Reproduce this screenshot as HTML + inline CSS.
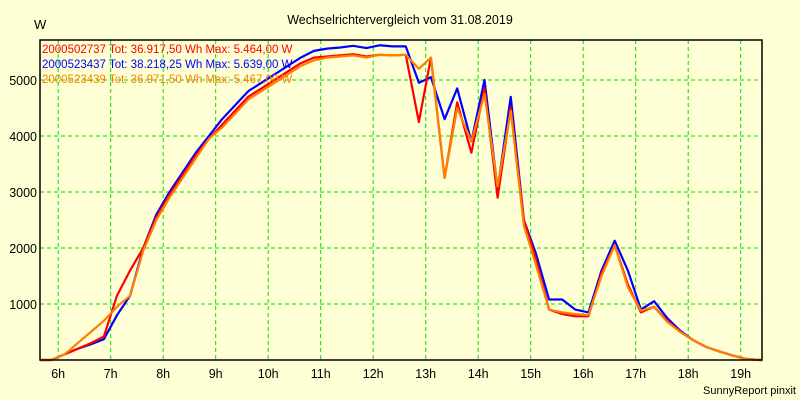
<!DOCTYPE html>
<html><head><meta charset="utf-8"><style>
body{margin:0;background:#ffffd5;}
svg{display:block;font-family:"Liberation Sans",sans-serif;}
</style></head><body>
<svg id="chart" width="800" height="400" viewBox="0 0 800 400">
<rect x="0" y="0" width="800" height="400" fill="#ffffd5"/>
<text x="400" y="24" text-anchor="middle" font-size="12.5" fill="#000">Wechselrichtervergleich vom 31.08.2019</text>
<text x="34" y="29" font-size="13" fill="#000">W</text>
<text x="796" y="394" text-anchor="end" font-size="11" fill="#000">SunnyReport pinxit</text>
<g id="grid"></g><g id="series"></g><g id="axes"></g>
<g font-size="11.5">
<text x="42" y="53" fill="#ff0000">2000502737 Tot: 36.917,50 Wh Max: 5.464,00 W</text>
<text x="42" y="68" fill="#0000ff">2000523437 Tot: 38.218,25 Wh Max: 5.639,00 W</text>
<text x="42" y="83" fill="#ff8000">2000523439 Tot: 36.971,50 Wh Max: 5.467,00 W</text>
</g>
</svg>
<script>
const hourTicks=[6,7,8,9,10,11,12,13,14,15,16,17,18,19];
const valueTicks=[1000,2000,3000,4000,5000];
const times=[5.62,5.87,6.12,6.37,6.62,6.87,7.12,7.37,7.62,7.87,8.12,8.37,8.62,8.87,9.12,9.37,9.62,9.87,10.12,10.37,10.62,10.87,11.12,11.37,11.62,11.87,12.12,12.37,12.62,12.87,13.1,13.36,13.6,13.87,14.12,14.37,14.62,14.87,15.1,15.35,15.6,15.85,16.1,16.35,16.6,16.85,17.1,17.35,17.6,17.85,18.1,18.35,18.6,18.85,19.1,19.35,19.45];
const blueVals=[0,0,100,200,280,370,800,1150,2000,2600,3000,3350,3700,4000,4300,4550,4800,4950,5100,5250,5400,5520,5560,5580,5610,5570,5620,5600,5600,4950,5050,4300,4850,3900,5000,3050,4700,2500,1900,1080,1080,900,850,1600,2130,1600,900,1050,750,520,350,230,150,80,20,0,0];
const redVals=[0,0,100,200,300,420,1150,1600,2000,2550,2950,3300,3650,3950,4200,4450,4700,4850,5000,5150,5300,5400,5420,5440,5460,5420,5450,5440,5450,4250,5400,3250,4600,3700,4850,2900,4500,2500,1800,900,820,780,780,1550,2050,1350,850,950,700,500,350,230,150,80,20,0,0];
const orangeVals=[0,0,100,300,500,700,950,1150,1950,2500,2900,3250,3600,3950,4150,4400,4650,4800,4950,5100,5250,5350,5400,5420,5440,5400,5450,5440,5450,5200,5400,3250,4500,3900,4750,3100,4450,2400,1700,900,850,820,800,1500,2050,1300,880,950,680,500,350,230,150,80,20,0,0];
const L=40,R=762,T=40,B=360;
const xOf=h=>58.2+(h-6)*52.5;
const yOf=v=>B-v*0.056;
const NS="http://www.w3.org/2000/svg";
function mk(tag,attrs,parent){const e=document.createElementNS(NS,tag);for(const k in attrs)e.setAttribute(k,attrs[k]);parent.appendChild(e);return e;}
const grid=document.getElementById('grid'),axes=document.getElementById('axes'),ser=document.getElementById('series');
hourTicks.forEach(h=>{
  const ln=mk('line',{x1:xOf(h),x2:xOf(h),y1:T,y2:B,stroke:'#00e000','stroke-dasharray':'4,3'},grid);
  
  
  const t=mk('text',{x:xOf(h),y:B+18,'text-anchor':'middle','font-size':12.5,fill:'#000'},axes);
  t.textContent=h+'h';
  
  
});
valueTicks.forEach(v=>{
  const ln=mk('line',{x1:L,x2:R,y1:yOf(v),y2:yOf(v),stroke:'#00e000','stroke-dasharray':'4,3'},grid);
  
  
  const t=mk('text',{x:37,y:yOf(v)+5,'text-anchor':'end','font-size':12.5,fill:'#000'},axes);
  t.textContent=v;
  
  
});
const frame=mk('rect',{x:L,y:T,width:R-L,height:B-T,fill:'none',stroke:'#000','stroke-width':1.5},axes);


function line(vals,color,name){
  const pts=vals.map((v,i)=>Math.max(L,Math.min(R,xOf(times[i])))+','+yOf(v)).join(' ');
  const p=mk('polyline',{points:pts,fill:'none',stroke:color,'stroke-width':2.2,'stroke-linejoin':'round'},ser);
  
  
}
line(blueVals,'#0000ff','series-2000523437');
line(redVals,'#ff0000','series-2000502737');
line(orangeVals,'#ff8000','series-2000523439');
</script>
</body></html>
